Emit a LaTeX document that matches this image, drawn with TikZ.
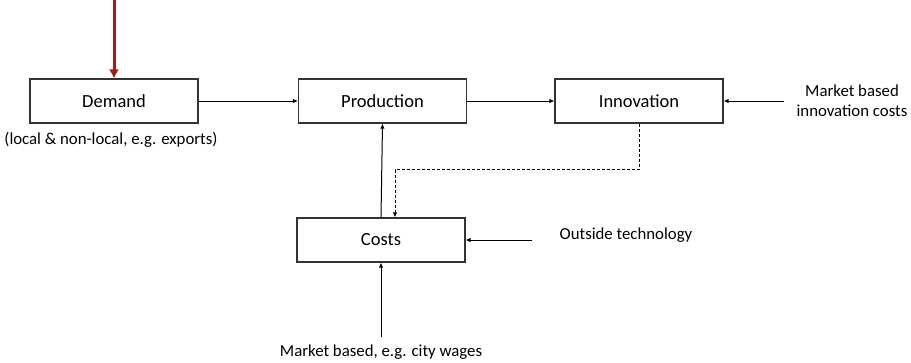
\documentclass[tikz,border=0pt]{standalone}
\usepackage{fontspec}
\setmainfont{Carlito}
\usetikzlibrary{arrows.meta}
\definecolor{darkred}{RGB}{166,28,20}
\begin{document}
\begin{tikzpicture}[x=1pt,y=-1pt,
  box/.style={draw=black!80,line width=1.1pt,minimum width=168pt,minimum height=44pt,inner sep=0pt,font=\fontsize{18.5}{22}\selectfont},
  lbl/.style={inner sep=0pt,font=\fontsize{16.8}{20}\selectfont,align=center},
  arr/.style={line width=1pt,-{Latex[length=5pt,width=4.5pt]}},
  darr/.style={line width=1pt,dashed,dash pattern=on 3pt off 2pt,-{Latex[length=5pt,width=4.5pt]}}]
\useasboundingbox (0,0) rectangle (911,362);
\node[box] (dem) at (114,101) {Demand};
\node[box] (prod) at (382.5,101) {Production};
\node[box] (inn) at (639,101) {Innovation};
\node[box] (cost) at (381,240) {Costs};
\node[lbl] (demcap) at (111,140) {(local \& non-local, e.g. exports)};
\node[lbl] (mbi) at (852,101) {Market based\\innovation costs};
\node[lbl] (out) at (626,235) {Outside technology};
\node[lbl] (wag) at (381,352) {Market based, e.g. city wages};
\coordinate (top) at (114,0);
\coordinate (mbis) at (784,101);
\coordinate (outs) at (532,240);
\coordinate (wags) at (381,337);
\draw[darkred,line width=3pt,-{Latex[length=9pt,width=10pt]}] (top) -- (dem.north);
\draw[arr] (dem) -- (prod);
\draw[arr] (prod) -- (inn);
\draw[arr] (mbis) -- (inn.east);
\draw[arr] (cost.north) -- (prod.south);
\draw[arr] (outs) -- (cost.east);
\draw[arr] (wags) -- (cost.south);
\draw[darr] (inn.south) -- ++(0,46) -| ([xshift=14pt]cost.north);
\end{tikzpicture}
\end{document}
